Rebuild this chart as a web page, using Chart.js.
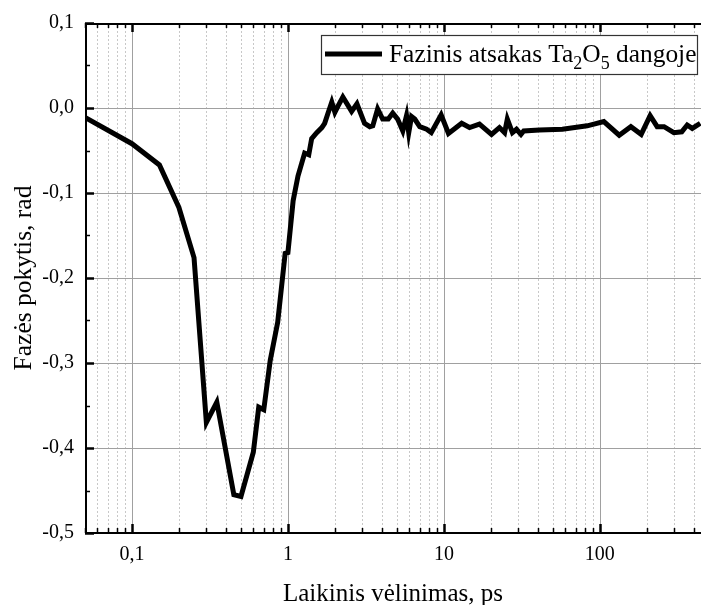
<!DOCTYPE html>
<html>
<head>
<meta charset="utf-8">
<script src="https://cdn.jsdelivr.net/npm/chart.js@4.4.1/dist/chart.umd.min.js"></script>
<style>
  html, body { margin: 0; padding: 0; background: #fff; }
  #wrap { width: 701px; height: 605px; }
</style>
</head>
<body>
<div id="wrap"><canvas id="phaseChart" width="701" height="605"></canvas></div>
<script>
// delay (ps) and phase change (rad)
const delays = [0.05, 0.1, 0.15, 0.2, 0.25, 0.3, 0.35, 0.45, 0.5, 0.6, 0.65, 0.7, 0.77, 0.86, 0.96, 1.0,
    1.08, 1.16, 1.28, 1.36, 1.42, 1.53, 1.65, 1.72, 1.8, 1.91, 2.0, 2.09, 2.25, 2.56, 2.77, 3.1, 3.35, 3.5,
    3.76, 4.05, 4.4, 4.7, 5.05, 5.45, 5.76, 5.95, 6.2, 6.5, 7.0, 7.75, 8.3, 9.6, 10.7, 13.0, 14.6, 16.9,
    20.2, 22.7, 24.5, 25.5, 27.5, 29.2, 31.2, 32.5, 41, 57.5, 83, 106, 133, 158, 184, 210, 233, 258, 298,
    335, 363, 391, 440];
const phase = [-0.011, -0.042, -0.067, -0.117, -0.176, -0.370, -0.346, -0.455, -0.457, -0.405, -0.352, -0.355,
    -0.297, -0.252, -0.171, -0.170, -0.109, -0.080, -0.053, -0.055, -0.036, -0.029, -0.023, -0.018, -0.007,
    0.007, -0.005, 0.002, 0.013, -0.004, 0.005, -0.018, -0.022, -0.021, -0.001, -0.013, -0.013, -0.006,
    -0.013, -0.027, -0.009, -0.029, -0.010, -0.013, -0.022, -0.025, -0.029, -0.008, -0.030, -0.018, -0.023,
    -0.019, -0.031, -0.023, -0.029, -0.013, -0.029, -0.025, -0.031, -0.027, -0.026, -0.025, -0.021, -0.016,
    -0.032, -0.022, -0.031, -0.009, -0.022, -0.022, -0.029, -0.028, -0.020, -0.024, -0.018];

const xLabelTicks = [0.1, 1, 10, 100];
const yMin = -0.5, yMax = 0.1, yStep = 0.1;
const xMin = 0.05, xMax = 445;

const seriesName = ["Fazinis atsakas Ta", "2", "O", "5", " dangoje"]; // parts, odd ones are subscripts

const FONT = "'Liberation Serif', 'Times New Roman', serif";

function comma(v) {
    return (Math.round(v * 10) / 10).toFixed(1).replace(".", ",").replace("-0,0", "0,0");
}

// all 1..9 x 10^n positions inside the x range
function logPositions() {
    let out = [];
    for (let e = -2; e <= 3; e++) {
        for (let m = 1; m <= 9; m++) {
            let v = m * Math.pow(10, e);
            if (v >= xMin * 0.999 && v <= xMax) out.push({ v: v, major: m == 1 });
        }
    }
    return out;
}

const frame = {
    id: "frame",
    beforeDatasetsDraw(chart) {
        const { ctx, chartArea: a, scales } = chart;
        const xs = scales.x, ys = scales.y;
        ctx.save();
        // minor dotted verticals
        ctx.lineWidth = 1;
        ctx.strokeStyle = "#c8c8c8";
        ctx.setLineDash([2, 2]);
        logPositions().forEach(p => {
            if (p.major) return;
            let x = Math.round(xs.getPixelForValue(p.v)) + 0.5;
            ctx.beginPath(); ctx.moveTo(x, a.top); ctx.lineTo(x, a.bottom); ctx.stroke();
        });
        ctx.setLineDash([]);
        ctx.strokeStyle = "#a0a0a0";
        logPositions().forEach(p => {
            if (!p.major) return;
            let x = Math.round(xs.getPixelForValue(p.v)) + 0.5;
            ctx.beginPath(); ctx.moveTo(x, a.top); ctx.lineTo(x, a.bottom); ctx.stroke();
        });
        for (let v = yMin + yStep; v < yMax - 1e-9; v += yStep) {
            let y = Math.round(ys.getPixelForValue(v)) + 0.5;
            ctx.beginPath(); ctx.moveTo(a.left, y); ctx.lineTo(a.right, y); ctx.stroke();
        }
        ctx.restore();
    },
    afterDatasetsDraw(chart) {
        const { ctx, chartArea: a, scales } = chart;
        const xs = scales.x, ys = scales.y;
        ctx.save();
        ctx.strokeStyle = "#000";
        // inward ticks, bottom and top
        logPositions().forEach(p => {
            let x = Math.round(xs.getPixelForValue(p.v)) + 0.5;
            let len = p.major ? 9 : 5;
            ctx.lineWidth = p.major ? 2.5 : 1.5;
            ctx.beginPath(); ctx.moveTo(x, a.bottom); ctx.lineTo(x, a.bottom - len); ctx.stroke();
            ctx.beginPath(); ctx.moveTo(x, a.top); ctx.lineTo(x, a.top + len); ctx.stroke();
        });
        // left ticks every half step
        for (let i = 0; i <= Math.round((yMax - yMin) / yStep * 2); i++) {
            let v = yMin + i * yStep / 2;
            let y = Math.round(ys.getPixelForValue(v)) + 0.5;
            let len = i % 2 == 0 ? 9 : 5;
            ctx.lineWidth = i % 2 == 0 ? 2.5 : 1.5;
            ctx.beginPath(); ctx.moveTo(a.left, y); ctx.lineTo(a.left + len, y); ctx.stroke();
        }
        // axis lines
        ctx.lineWidth = 2;
        ctx.beginPath();
        ctx.moveTo(a.right, a.top + 1); ctx.lineTo(a.left + 1, a.top + 1);
        ctx.lineTo(a.left + 1, a.bottom); ctx.lineTo(a.right, a.bottom);
        ctx.stroke();

        // legend
        const boxR = a.right - 3, boxT = a.top + 12, boxB = a.top + 52;
        const boxL = boxR - 377;
        ctx.fillStyle = "#fff";
        ctx.fillRect(boxL, boxT, boxR - boxL, boxB - boxT);
        ctx.lineWidth = 1.2;
        ctx.strokeStyle = "#333";
        ctx.strokeRect(boxL + 0.5, boxT + 0.5, boxR - boxL - 1, boxB - boxT - 1);
        ctx.lineWidth = 5;
        ctx.strokeStyle = "#000";
        let midY = (boxT + boxB) / 2 - 1;
        ctx.beginPath(); ctx.moveTo(boxL + 4, midY); ctx.lineTo(boxL + 61, midY); ctx.stroke();
        ctx.fillStyle = "#000";
        ctx.textBaseline = "alphabetic";
        ctx.textAlign = "left";
        let tx = boxL + 68, base = boxT + 27;
        seriesName.forEach((part, i) => {
            if (i % 2 == 1) {
                ctx.font = "18px " + FONT;
                ctx.fillText(part, tx, base + 7);
            } else {
                ctx.font = "25.4px " + FONT;
                ctx.fillText(part, tx, base);
            }
            tx += ctx.measureText(part).width;
        });
        ctx.restore();
    }
};

const ctx = document.getElementById("phaseChart").getContext("2d");
const points = delays.map((d, i) => ({ x: d, y: phase[i] }));

new Chart(ctx, {
    type: "line",
    data: {
        datasets: [{
            label: seriesName.join(""),
            data: points,
            borderColor: "#000",
            borderWidth: 5,
            pointRadius: 0,
            tension: 0,
            fill: false,
            borderJoinStyle: "miter"
        }]
    },
    options: {
        responsive: false,
        animation: false,
        devicePixelRatio: 1,
        layout: { padding: { top: 22, right: 0, left: 0, bottom: 0 } },
        plugins: { legend: { display: false }, tooltip: { enabled: false } },
        scales: {
            x: {
                type: "logarithmic",
                min: xMin,
                max: xMax,
                afterBuildTicks: scale => {
                    scale.ticks = xLabelTicks.map(v => ({ value: v }));
                },
                afterFit: scale => { scale.height = 72; },
                grid: { display: false, drawTicks: false },
                border: { display: false },
                ticks: {
                    color: "#000",
                    padding: 10,
                    maxRotation: 0,
                    autoSkip: false,
                    font: { family: FONT, size: 20 },
                    callback: v => comma(v).replace(",0", v >= 1 ? "" : ",0")
                },
                title: {
                    display: true,
                    text: "Laikinis vėlinimas, ps",
                    color: "#000",
                    font: { family: FONT, size: 25, lineHeight: 1 },
                    padding: { top: 0, bottom: -2 }
                }
            },
            y: {
                min: yMin,
                max: yMax,
                afterFit: scale => { scale.width = 85; },
                grid: { display: false, drawTicks: false },
                border: { display: false },
                ticks: {
                    stepSize: yStep,
                    color: "#000",
                    padding: 11,
                    font: { family: FONT, size: 20 },
                    callback: v => comma(v)
                },
                title: {
                    display: true,
                    text: "Fazės pokytis, rad",
                    color: "#000",
                    font: { family: FONT, size: 25.5, lineHeight: 1 },
                    padding: { top: 12, bottom: 0 }
                }
            }
        }
    },
    plugins: [frame]
});
</script>
</body>
</html>
